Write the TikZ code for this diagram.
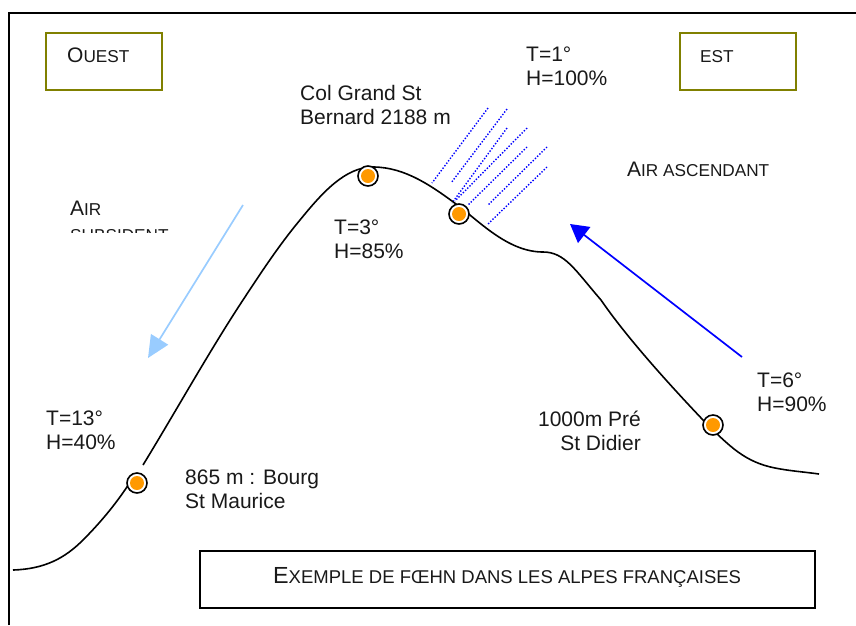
\documentclass[tikz,border=0pt]{standalone}
\usepackage{fontspec}
\setmainfont{Liberation Sans}
\usetikzlibrary{arrows.meta}
\definecolor{oliveb}{RGB}{128,128,0}
\definecolor{lightarrow}{RGB}{153,204,255}
\definecolor{dotorange}{RGB}{255,153,0}
\newcommand{\smc}[2]{{\fontsize{21}{24}\selectfont #1}{\fontsize{17.2}{24}\selectfont #2}}
\tikzset{
  x=1pt,y=-1pt,
  lbl/.style={font=\fontsize{21}{24}\selectfont,align=left,anchor=north west,inner sep=0pt,text=black!90},
  site/.style={circle,draw=black,line width=1.6pt,fill=white,minimum size=20pt,inner sep=0pt},
  sitedot/.style={circle,fill=dotorange,minimum size=14pt,inner sep=0pt},
  labelbox/.style={draw=oliveb,line width=2pt,fill=white},
  rain/.style={draw=blue,line width=1.4pt,dash pattern=on 1.4pt off 1.7pt},
  ridge/.style={line width=1.6pt},
}
\begin{document}
\begin{tikzpicture}
\useasboundingbox (0,0) rectangle (856,625);
\draw[line width=2pt] (9,625) -- (9,13) -- (856,13);
% boxes
\node[labelbox,minimum width=115.5pt,minimum height=57.5pt,anchor=north west] (ouest) at (45,31.5) {};
\node[lbl,anchor=base west] (ouestt) at (67,62) {\smc{O}{UEST}};
\node[labelbox,minimum width=115.5pt,minimum height=57.5pt,anchor=north west] (est) at (679,31.5) {};
\node[lbl,anchor=base west] (estt) at (700,62) {\smc{}{EST}};
\node[draw=black,line width=2pt,minimum width=615pt,minimum height=57pt,anchor=north west] (titre) at (199,550) {};
\node[lbl,anchor=base west] (titret) at (273,583) {{\fontsize{23.3}{24}\selectfont E}{\fontsize{18.5}{24}\selectfont XEMPLE DE FŒHN DANS LES ALPES FRANÇAISES}};
% rain
\coordinate (r1a) at (488,108); \coordinate (r1b) at (432,183);
\coordinate (r2a) at (507,109); \coordinate (r2b) at (451,183);
\coordinate (r3a) at (507,128); \coordinate (r3b) at (452,203);
\coordinate (r4a) at (527,128); \coordinate (r4b) at (455,201);
\coordinate (r5a) at (527,147); \coordinate (r5b) at (468,205);
\coordinate (r6a) at (547,147); \coordinate (r6b) at (488,205);
\coordinate (r7a) at (547,167); \coordinate (r7b) at (488,224);
\foreach \i in {1,...,7} \draw[rain] (r\i a) -- (r\i b);
% mountain
\draw[ridge] (13,570) .. controls (45,569) and (65,558) .. (83,540)
  .. controls (100,523) and (118,502) .. (134,476);
\draw[ridge] (143,465) .. controls (176,411) and (210,350) .. (243,300)
  .. controls (262,271) and (280,244) .. (300,220)
  .. controls (322,193) and (345,167) .. (373,167)
  .. controls (405,167) and (432,186) .. (460,207)
  .. controls (483,225) and (510,252) .. (543,252)
  .. controls (565,252) and (575,270) .. (601,300)
  .. controls (625,335) and (665,380) .. (703,420)
  .. controls (730,447) and (745,462) .. (775,468)
  .. controls (790,471) and (805,472) .. (819,474);
% sites
\foreach \n/\x/\y in {a/137/483,b/368/176,c/459/214,d/713/425}{
  \node[site] (s\n) at (\x,\y) {};
  \node[sitedot] (d\n) at (\x,\y) {};
}
% arrows
\coordinate (as) at (243,205); \coordinate (ae) at (148,358);
\draw[lightarrow,line width=1.7pt,-{Triangle[length=22pt,width=20pt]}] (as) -- (ae);
\coordinate (bs) at (742,357); \coordinate (be) at (570,224);
\draw[blue,line width=1.7pt,-{Triangle[length=18pt,width=20pt]}] (bs) -- (be);
% labels
\node[lbl] (t1) at (526,47) {T=1°\\H=100\%};
\node[lbl] (col) at (300,85) {Col Grand St\\Bernard 2188 m};
\node[lbl] (t3) at (334,220) {T=3°\\H=85\%};
\node[lbl] (t6) at (757,373) {T=6°\\H=90\%};
\node[lbl] (t13) at (46,411) {T=13°\\H=40\%};
\node[lbl] (bourg) at (185,470) {865 m : Bourg\\St Maurice};
\node[lbl,align=right,anchor=north east] (pre) at (641,411) {1000m Pré\\St Didier};
\node[lbl,anchor=base west] (asc) at (627,176) {\smc{A}{IR ASCENDANT}};
\node[lbl,anchor=base west] (air) at (70,215) {\smc{A}{IR}};
\begin{scope}
\clip (60,222) rectangle (200,232);
\node[lbl,anchor=base west] (sub) at (70,241) {\smc{}{SUBSIDENT}};
\end{scope}
\end{tikzpicture}
\end{document}
